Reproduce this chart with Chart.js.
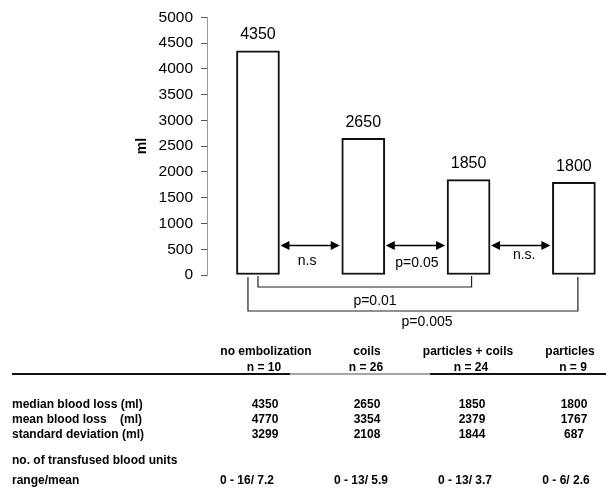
<!DOCTYPE html>
<html>
<head>
<meta charset="utf-8">
<script src="https://cdn.jsdelivr.net/npm/chart.js@4/dist/chart.umd.min.js"></script>
<style>
  html, body { margin: 0; padding: 0; background: #fff; }
  #wrap { width: 606px; height: 493px; }
</style>
</head>
<body>
<div id="wrap"><canvas id="c" width="606" height="493"></canvas></div>
<script>
// ---- data ----
const categories = ['no embolization', 'coils', 'particles + coils', 'particles'];
const groupSizes = ['n = 10', 'n = 26', 'n = 24', 'n = 9'];
const medianLoss = [4350, 2650, 1850, 1800];
const meanLoss = [4770, 3354, 2379, 1767];
const stdDev = [3299, 2108, 1844, 687];
const transfusedRangeMean = ['0 - 16/ 7.2', '0 - 13/ 5.9', '0 - 13/ 3.7', '0 - 6/ 2.6'];
const yTickValues = [0, 500, 1000, 1500, 2000, 2500, 3000, 3500, 4000, 4500, 5000];
const yAxisTitle = 'ml';
const adjacentTests = [
  { from: 0, to: 1, label: 'n.s' },
  { from: 1, to: 2, label: 'p=0.05' },
  { from: 2, to: 3, label: 'n.s.' }
];
const bracketTests = [
  { from: 0, to: 2, label: 'p=0.01' },
  { from: 0, to: 3, label: 'p=0.005' }
];
const rowLabels = ['median blood loss (ml)', 'mean blood loss    (ml)', 'standard deviation (ml)'];
const transfusedLabel = ['no. of transfused blood units', 'range/mean'];

// ---- styling / layout helpers (not data) ----
const FONT = '"Liberation Sans", Arial, Helvetica, sans-serif';
const arrowStyle = [ {dx: -3, dy: 16}, {dx: 1.5, dy: 18}, {dx: 3.5, dy: 9.5} ];
const bracketStyle = [
  { lx: 0, rx: 3, drop: 12, top: 1, labelX: 375, labelY: 301 },
  { lx: -10, rx: 4, drop: 36, top: 2, labelX: 427, labelY: 322 }
];
const colHeadX = [266, 367, 468, 570];
const colValX = [265, 367, 472, 574];
const colRangeX = [247, 361, 465, 566];

const annotPlugin = {
  id: 'annot',
  afterDatasetsDraw(chart) {
    const ctx = chart.ctx;
    const meta = chart.getDatasetMeta(0);
    const ys = chart.scales.y;
    const bars = meta.data;
    ctx.save();
    // value labels
    ctx.fillStyle = '#000';
    ctx.font = '16px ' + FONT;
    ctx.textAlign = 'center';
    ctx.textBaseline = 'middle';
    bars.forEach((b, i) => ctx.fillText(String(medianLoss[i]), b.x, b.y - 16));

    // double arrows between adjacent bars
    const ay = ys.getPixelForValue(570);
    ctx.strokeStyle = '#000';
    ctx.lineWidth = 1.5;
    adjacentTests.forEach((t, k) => {
      const a = bars[t.from], b = bars[t.to];
      const x1 = a.x + a.width / 2 + 1, x2 = b.x - b.width / 2 - 2;
      ctx.beginPath(); ctx.moveTo(x1 + 6, ay); ctx.lineTo(x2 - 6, ay); ctx.stroke();
      ctx.beginPath(); ctx.moveTo(x1, ay); ctx.lineTo(x1 + 9, ay - 4.5); ctx.lineTo(x1 + 9, ay + 4.5); ctx.closePath(); ctx.fill();
      ctx.beginPath(); ctx.moveTo(x2, ay); ctx.lineTo(x2 - 9, ay - 4.5); ctx.lineTo(x2 - 9, ay + 4.5); ctx.closePath(); ctx.fill();
      ctx.font = '14px ' + FONT;
      ctx.fillText(t.label, (x1 + x2) / 2 + arrowStyle[k].dx, ay + arrowStyle[k].dy);
    });

    // brackets below bars
    const base = ys.getPixelForValue(0);
    ctx.lineWidth = 1.2;
    ctx.strokeStyle = '#222';
    bracketTests.forEach((t, k) => {
      const s = bracketStyle[k];
      const xl = bars[t.from].x + s.lx, xr = bars[t.to].x + s.rx;
      const yb = base + s.drop;
      ctx.beginPath();
      ctx.moveTo(xl, base + s.top);
      ctx.lineTo(xl, yb);
      ctx.lineTo(xr, yb);
      ctx.lineTo(xr, base + s.top);
      ctx.stroke();
      ctx.font = '14px ' + FONT;
      ctx.fillText(t.label, s.labelX, s.labelY);
    });

    // y axis title
    ctx.save();
    ctx.translate(142, 146);
    ctx.rotate(-Math.PI / 2);
    ctx.font = 'bold 14px ' + FONT;
    ctx.fillText(yAxisTitle, 0, 0);
    ctx.restore();

    // table
    ctx.font = 'bold 12px ' + FONT;
    ctx.textBaseline = 'alphabetic';
    ctx.textAlign = 'center';
    categories.forEach((c, i) => ctx.fillText(c, colHeadX[i], 355));
    groupSizes.forEach((n, i) => ctx.fillText(n, colValX[i] - 1, 371));
    // header rule
    ctx.strokeStyle = '#111';
    ctx.lineWidth = 2;
    ctx.beginPath(); ctx.moveTo(12, 374); ctx.lineTo(290, 374); ctx.stroke();
    ctx.beginPath(); ctx.moveTo(430, 374); ctx.lineTo(606, 374); ctx.stroke();
    ctx.strokeStyle = '#888';
    ctx.lineWidth = 1.5;
    ctx.beginPath(); ctx.moveTo(290, 374); ctx.lineTo(430, 374); ctx.stroke();

    const rowY = [408, 423, 438];
    const rows = [medianLoss, meanLoss, stdDev];
    rows.forEach((vals, r) => {
      ctx.textAlign = 'left';
      ctx.fillText(rowLabels[r], 12, rowY[r]);
      ctx.textAlign = 'center';
      vals.forEach((v, i) => ctx.fillText(String(v), colValX[i], rowY[r]));
    });
    ctx.textAlign = 'left';
    ctx.fillText(transfusedLabel[0], 12, 464);
    ctx.fillText(transfusedLabel[1], 12, 484);
    ctx.textAlign = 'center';
    transfusedRangeMean.forEach((s, i) => ctx.fillText(s, colRangeX[i], 484));
    ctx.restore();
  }
};

new Chart(document.getElementById('c'), {
  type: 'bar',
  data: {
    datasets: [{
      data: medianLoss.map((v, i) => ({ x: i, y: v })),
      backgroundColor: '#ffffff',
      borderColor: '#111',
      borderWidth: 2,
      borderSkipped: false,
      barThickness: 43
    }]
  },
  options: {
    responsive: false,
    animation: false,
    devicePixelRatio: 1,
    layout: { padding: { left: 0, right: 0, top: 16, bottom: 218 } },
    plugins: { legend: { display: false }, tooltip: { enabled: false } },
    scales: {
      x: { type: 'linear', offset: false, min: -0.484, max: 3.305, display: false },
      y: {
        min: 0, max: 5000,
        afterFit(scale) { scale.width = 207; },
        afterBuildTicks(scale) { scale.ticks = yTickValues.map(v => ({ value: v })); },
        ticks: { color: '#000', font: { family: FONT, size: 15.5 }, padding: 8, callback: v => String(v) },
        grid: { drawOnChartArea: false, drawTicks: true, tickLength: 6, color: '#555' },
        border: { display: true, color: '#999', dash: [2, 2] }
      }
    }
  },
  plugins: [annotPlugin]
});
</script>
</body>
</html>
